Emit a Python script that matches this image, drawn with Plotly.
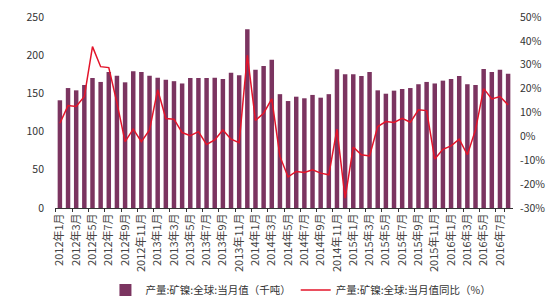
import plotly.graph_objects as go

years = [2012, 2013, 2014, 2015, 2016]
categories = [f"{y}年{m}月" for y in years for m in range(1, 13)][:56]

output_kt = [
    141, 157, 154, 161, 170, 165, 178, 173, 164.5, 179, 178, 173,
    170.6, 168, 166, 163, 170, 170, 170, 170.6, 169, 177, 173.7, 234,
    181, 186, 194, 149, 140, 145.7, 143.6, 148, 144.4, 149, 181.5, 175,
    175, 172.8, 178, 154, 149.6, 153.6, 155.8, 157, 162, 165, 163, 166.7,
    168.8, 172.8, 162, 161, 182, 178, 181, 175.8,
]

yoy_pct = [
    5.5, 12.9, 12.5, 16.7, 37.6, 29.2, 28.8, 14.0, -2.2, 3.0, -2.2, 2.7,
    19.5, 7.5, 7.2, 1.6, 0.3, 2.0, -3.4, -1.5, 2.7, -1.2, -2.6, 34.0,
    6.7, 9.7, 15.7, -8.4, -17.0, -14.7, -15.1, -14.0, -15.4, -16.1, 3.0, -25.9,
    -4.5, -7.7, -8.2, 4.1, 6.2, 5.8, 7.6, 5.9, 11.1, 10.8, -9.5, -5.4,
    -4.0, -1.2, -7.7, 2.7, 20.0, 15.7, 16.7, 13.2,
]

left_ticks = [0, 50, 100, 150, 200, 250]
right_ticks = [-30, -20, -10, 0, 10, 20, 30, 40, 50]
right_text = [f"{v}%" for v in right_ticks]

bar_name = "产量:矿镍:全球:当月值（千吨）"
line_name = "产量:矿镍:全球:当月值同比（%）"

fig = go.Figure()
fig.add_trace(go.Bar(
    x=categories, y=output_kt, name=bar_name,
    marker=dict(color="#7B3460", line=dict(width=0)),
    width=0.55, yaxis="y",
))
fig.add_trace(go.Scatter(
    x=categories, y=yoy_pct, name=line_name, mode="lines",
    line=dict(color="#E3142A", width=1.5), yaxis="y2",
))

font = dict(family="Noto Sans CJK SC, Noto Sans, sans-serif", size=10.5, color="#333333")

fig.update_layout(
    width=550, height=300,
    margin=dict(l=55, r=37, t=17, b=92, autoexpand=False),
    paper_bgcolor="white", plot_bgcolor="white",
    font=font,
    showlegend=True,
    legend=dict(orientation="h", x=0.537, xanchor="center",
                yref="container", y=0.033, yanchor="middle",
                font=dict(size=10.5), itemwidth=30, tracegroupgap=0,
                bgcolor="rgba(0,0,0,0)"),
    xaxis=dict(
        type="category", categoryorder="array", categoryarray=categories,
        tickmode="array", tickvals=categories[::2], ticktext=categories[::2],
        tickangle=-90, showgrid=False, showline=True, linecolor="#333333",
        ticks="outside", ticklen=3, tickcolor="#333333", tickson="boundaries",
        tickfont=dict(size=11, color="#444444"), range=[-0.6, 55.6], automargin=False,
    ),
    yaxis=dict(
        range=[0, 250], tickmode="array", tickvals=left_ticks,
        showgrid=False, zeroline=False, showline=False, ticks="",
        ticklabelstandoff=10, automargin=False,
    ),
    yaxis2=dict(
        range=[-30, 50], tickmode="array", tickvals=right_ticks, ticktext=right_text,
        overlaying="y", side="right", showgrid=False, zeroline=False,
        showline=False, ticks="", ticklabelstandoff=6, automargin=False,
    ),
    bargap=0.4,
)

fig.write_html("out.html")
